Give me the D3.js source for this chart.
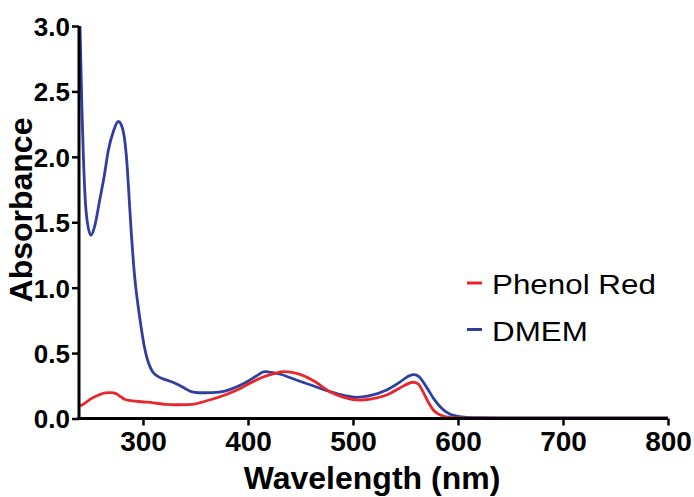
<!DOCTYPE html>
<html>
<head>
<meta charset="utf-8">
<script src="https://cdn.jsdelivr.net/npm/d3@7"></script>
<style>
  html, body { margin: 0; padding: 0; background: #fff; }
  svg { display: block; }
  text { font-family: "Liberation Sans", Arial, Helvetica, sans-serif; }
</style>
</head>
<body>
<svg id="chart" width="694" height="497"></svg>
<script>
// ---- Data ----
const xTicks = [300, 400, 500, 600, 700, 800];
const yTicks = [0.0, 0.5, 1.0, 1.5, 2.0, 2.5, 3.0];
const seriesNames = ["Phenol Red", "DMEM"];
const seriesColors = ["#e8262b", "#2f3f9f"];

const dmemWavelength = [240, 241.6, 244.8, 247, 250.5, 254, 259, 263, 267, 272, 276.5, 280, 283, 285, 287, 289, 291, 293, 295, 298, 301, 305, 309, 314.6, 322, 330.5, 340, 346, 352.7, 360, 370, 378, 390, 400, 408, 416, 420, 430, 446, 462, 478, 492, 503.5, 515, 532, 545, 552, 557.5, 562, 570, 577, 583, 592, 600, 608, 620, 650, 700, 750, 800];
const dmemAbsorbance = [3.0, 2.45, 1.70, 1.50, 1.40, 1.47, 1.68, 1.85, 2.05, 2.20, 2.27, 2.23, 2.10, 1.92, 1.66, 1.40, 1.18, 1.01, 0.88, 0.71, 0.56, 0.43, 0.36, 0.32, 0.295, 0.27, 0.23, 0.205, 0.197, 0.197, 0.200, 0.210, 0.245, 0.285, 0.325, 0.358, 0.355, 0.34, 0.294, 0.25, 0.205, 0.175, 0.162, 0.172, 0.218, 0.28, 0.32, 0.335, 0.325, 0.24, 0.15, 0.09, 0.034, 0.016, 0.009, 0.006, 0.005, 0.004, 0.004, 0.004];

const phenolWavelength = [240, 245, 251, 258, 264, 268.6, 272, 275, 279, 283, 290, 299, 310, 321, 332, 343, 350, 356, 365, 378, 390, 400, 412, 425.7, 433.6, 442, 452, 462, 478, 492, 506.7, 518, 532, 545, 552, 557.5, 562, 567, 572, 576.5, 581, 586, 592, 599, 610, 650, 700, 750, 800];
const phenolAbsorbance = [0.095, 0.12, 0.154, 0.18, 0.195, 0.198, 0.195, 0.187, 0.165, 0.145, 0.135, 0.128, 0.12, 0.108, 0.105, 0.106, 0.112, 0.125, 0.145, 0.18, 0.22, 0.262, 0.31, 0.345, 0.358, 0.352, 0.33, 0.29, 0.205, 0.16, 0.141, 0.15, 0.18, 0.235, 0.265, 0.277, 0.265, 0.2, 0.12, 0.065, 0.035, 0.019, 0.009, 0.004, 0.003, 0.003, 0.003, 0.003, 0.003];

// ---- Layout ----
const svg = d3.select("#chart");
const x = d3.scaleLinear().domain([240, 800]).range([80, 668]);
const y = d3.scaleLinear().domain([0, 3]).range([418.5, 26]);

// Curves
const series = [
  { name: seriesNames[1], color: seriesColors[1], xs: dmemWavelength, ys: dmemAbsorbance },
  { name: seriesNames[0], color: seriesColors[0], xs: phenolWavelength, ys: phenolAbsorbance }
];
const line = d3.line()
  .x(d => x(d[0]))
  .y(d => y(d[1]))
  .curve(d3.curveMonotoneX);

series.forEach(s => {
  svg.append("path")
    .datum(s.xs.map((w, i) => [w, s.ys[i]]))
    .attr("fill", "none")
    .attr("stroke", s.color)
    .attr("stroke-width", 2.8)
    .attr("stroke-linejoin", "round")
    .attr("d", line);
});

// Axes
const xAxis = svg.append("g")
  .attr("transform", `translate(0,${y(0)})`)
  .call(d3.axisBottom(x).tickValues(xTicks).tickFormat(d3.format("d")).tickSize(7).tickSizeOuter(0).tickPadding(6));
const yAxis = svg.append("g")
  .attr("transform", `translate(${x(240) - 1},0)`)
  .call(d3.axisLeft(y).tickValues(yTicks).tickFormat(d3.format(".1f")).tickSize(7).tickSizeOuter(0).tickPadding(2));

[xAxis, yAxis].forEach(g => {
  g.select(".domain").attr("stroke", "#000").attr("stroke-width", 3);
  g.selectAll(".tick line").attr("stroke", "#000").attr("stroke-width", 2.5);
  g.selectAll(".tick text")
    .attr("fill", "#000")
    .style("font-family", "'Liberation Sans', Arial, sans-serif")
    .style("font-weight", "bold")
    .style("font-size", "26px");
});
xAxis.selectAll(".tick text").style("font-size", "28px").attr("dy", "0.71em");
xAxis.select(".domain").attr("d", `M${x(240) - 2.5},0H${x(800)}`);
yAxis.select(".domain").attr("d", `M0,${y(3)}V${y(0) + 1.5}`);
yAxis.selectAll(".tick text").attr("dy", "0.36em");

// Axis titles
svg.append("text")
  .attr("x", 372)
  .attr("y", 489)
  .attr("text-anchor", "middle")
  .style("font-weight", "bold")
  .style("font-size", "32px")
  .text("Wavelength (nm)");
svg.append("text")
  .attr("transform", "translate(32,210) rotate(-90)")
  .attr("text-anchor", "middle")
  .style("font-weight", "bold")
  .style("font-size", "32px")
  .text("Absorbance");

// Legend
const legendItems = [
  { name: seriesNames[0], color: seriesColors[0] },
  { name: seriesNames[1], color: seriesColors[1] }
];
const legend = svg.append("g").attr("transform", "translate(467,283)");
legendItems.forEach((d, i) => {
  const g = legend.append("g").attr("transform", `translate(0,${i * 46.5})`);
  g.append("line").attr("x1", 0).attr("x2", 15).attr("y1", 0).attr("y2", 0)
    .attr("stroke", d.color).attr("stroke-width", 3);
  g.append("text")
    .attr("transform", "translate(25,11) scale(1.12,1)")
    .style("font-size", "28px")
    .attr("fill", "#000")
    .text(d.name);
});
</script>
</body>
</html>
